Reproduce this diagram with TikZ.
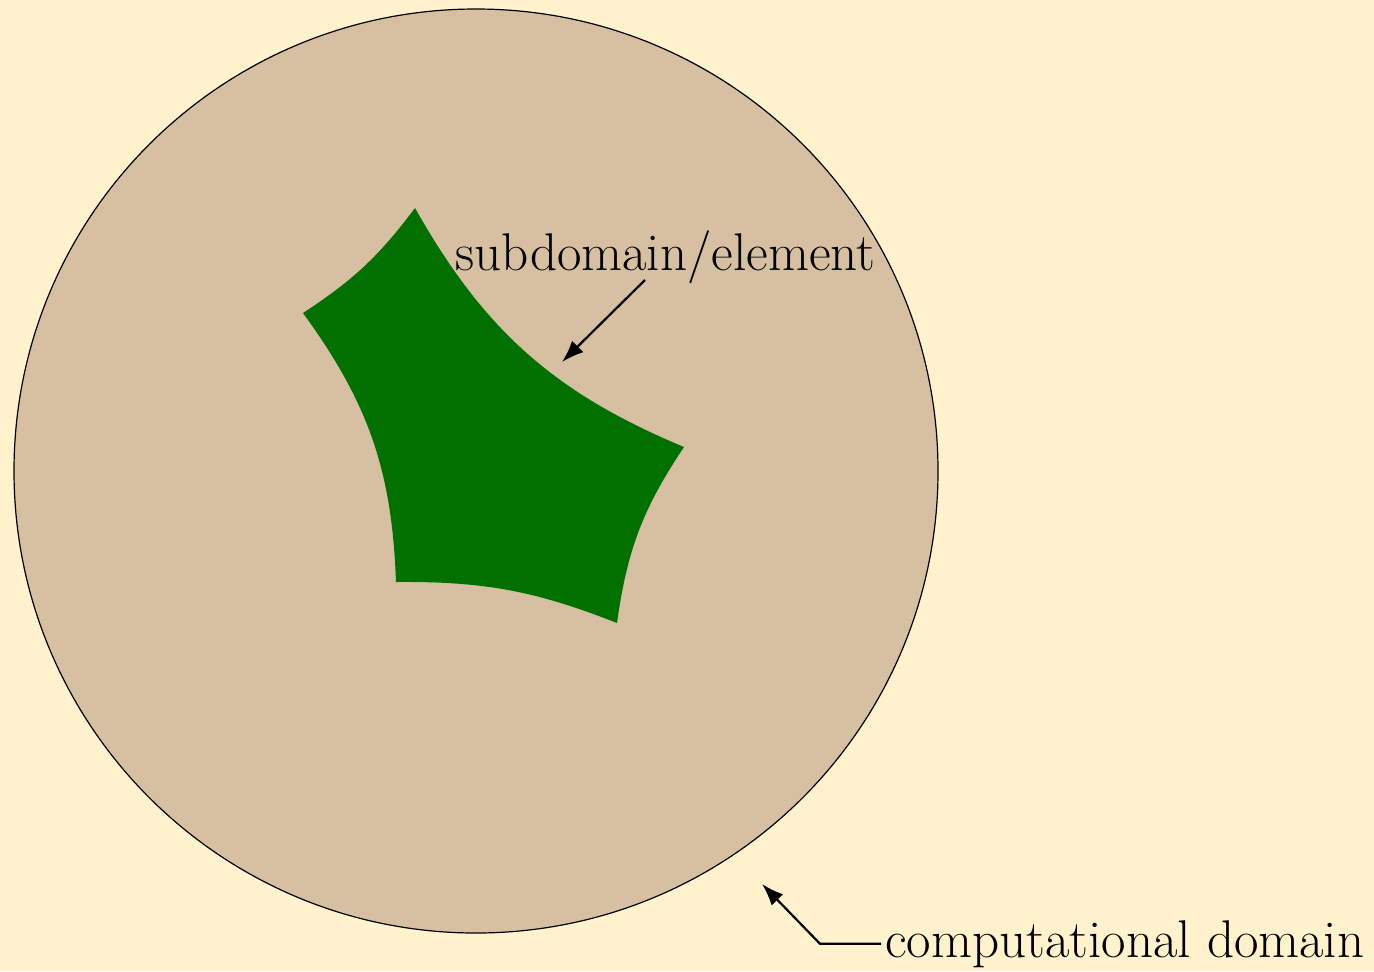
\documentclass[tikz,border=0pt]{standalone}
\usetikzlibrary{arrows.meta}
\definecolor{bgcream}{RGB}{255,242,204}
\definecolor{domaintan}{RGB}{214,192,161}
\definecolor{elemgreen}{RGB}{0,112,0}
\begin{document}
\begin{tikzpicture}[x=0.5pt,y=-0.5pt,
  lbl/.style={font=\fontsize{26.55}{32}\selectfont, inner sep=2pt},
  pointer/.style={-{Latex[length=11pt,width=8pt]}, line width=1.1pt}]
\fill[bgcream] (0,0) rectangle (1374,971);
\useasboundingbox (0,0) rectangle (1374,971);
% computational domain
\draw[fill=domaintan, line width=0.6pt] (476,471) circle[radius=462];
% subdomain / element
\fill[elemgreen] (415,208) to[bend right=19] (684,447) to[bend right=13] (617,623)
  to[bend right=11] (396,582) to[bend right=17] (303,313) to[bend right=10] (415,208) -- cycle;
% labels
\node[lbl, anchor=base west] (sub) at (451,270) {subdomain/element};
\coordinate (substart) at (645,280);
\coordinate (subtip) at (562,362);
\draw[pointer] (substart) -- (subtip);
\node[lbl, anchor=base west] (comp) at (881,957) {computational domain};
\coordinate (comptip) at (762,884);
\draw[pointer] (comp.west) -- ++(-61,0) -- (comptip);
\end{tikzpicture}
\end{document}
